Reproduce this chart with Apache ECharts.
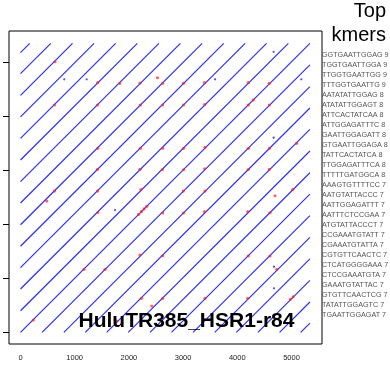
<!DOCTYPE html>
<html>
<head>
<meta charset="utf-8">
<script src="https://cdn.jsdelivr.net/npm/echarts@6/dist/echarts.min.js"></script>
<style>
html,body{margin:0;padding:0;background:#fff;}
#chart{width:390px;height:368px;}
</style>
</head>
<body>
<div id="chart"></div>
<script>
// ---- data ----
var seqLength = 5340;
// offsets of the repeat diagonals (bp)
var diagonalOffsets = [0, 398, 800, 1195, 1590, 1988, 2390, 2786, 3184, 3584, 3982, 4380, 4780, 5170];
// red top-kmer hits [x, y]
var kmerHitsX = [637,1424,1830,2205,2528,2624,3007,3395,4203,4590,
                 627,1421,2210,2624,3007,3398,4203,4295,4590,
                 1424,2214,2624,3007,3404,4207,4594,5096,
                 1421,2205,2620,3007,3398,4203,4590,
                 2223,5022,627,485,1421,3004,3404,4696,
                 1426,2180,2230,2280,2330,2624,3007,3395,4192,4603,
                 1172,1560,2205,2624,4203,4603,4727,
                 2232,2624,3404,4192,4980,5030,2421,236,1775];
var kmerHitsY = [5001,4613,4601,4607,4705,4601,4601,4613,4613,4601,
                 4201,4201,4201,4201,4201,4210,4201,4293,4201,
                 3400,3400,3400,3400,3419,3400,3400,3493,
                 3012,3012,3009,3005,3023,3009,3012,
                 2639,2639,2611,2426,2611,2611,2611,2524,
                 2214,2180,2230,2280,2330,2205,2205,2229,2229,2210,
                 1164,1162,1429,1414,1410,1410,1164,
                 628,628,628,628,610,655,486,227,209];
// isolated blue dots
var strayX = [808,1221,3589,5181,4671,4671,1744,4677,4677];
var strayY = [4675,4675,4675,4675,5185,3596,2260,1212,813];
var xTicks = [0, 1000, 2000, 3000, 4000, 5000];
var yTicks = [0, 1000, 2000, 3000, 4000, 5000];
var plotTitle = 'HuluTR385_HSR1-r84';
var legendTitle = ['Top', 'kmers'];
var kmerLabels = [
 'GGTGAATTGGAG 9','TGGTGAATTGGA 9','TTGGTGAATTGG 9','TTTGGTGAATTG 9',
 'AATATATTGGAG 8','ATATATTGGAGT 8','ATTCACTATCAA 8','ATTGGAGATTTC 8',
 'GAATTGGAGATT 8','GTGAATTGGAGA 8','TATTCACTATCA 8','TTGGAGATTTCA 8',
 'TTTTTGATGGCA 8','AAAGTGTTTTCC 7','AATGTATTACCC 7','AATTGGAGATTT 7',
 'AATTTCTCCGAA 7','ATGTATTACCCT 7','CCGAAATGTATT 7','CGAAATGTATTA 7',
 'CGTGTTCAACTC 7','CTCATGGGGAAA 7','CTCCGAAATGTA 7','GAAATGTATTAC 7',
 'GTGTTCAACTCG 7','TATATTGGAGTC 7','TGAATTGGAGAT 7'
];

// ---- build option ----
var segs = [];
diagonalOffsets.forEach(function (o) {
  segs.push({coords: [[0, o], [seqLength - o, seqLength]]});
  if (o > 0) segs.push({coords: [[o, 0], [seqLength, seqLength - o]]});
});
var hits = kmerHitsX.map(function (x, i) { return [x, kmerHitsY[i]]; });
var strays = strayX.map(function (x, i) { return [x, strayY[i]]; });

var graphics = [];
graphics.push({type:'text', x:386, y:21, style:{text:legendTitle[0], font:'20px "Liberation Sans", Arial, sans-serif', fill:'#000', textAlign:'right', textVerticalAlign:'bottom'}});
graphics.push({type:'text', x:386, y:45.5, style:{text:legendTitle[1], font:'20px "Liberation Sans", Arial, sans-serif', fill:'#000', textAlign:'right', textVerticalAlign:'bottom'}});
kmerLabels.forEach(function (t, i) {
  graphics.push({type:'text', x:322, y:55 + 10 * i, style:{text:t, font:'7.2px "Liberation Sans", Arial, sans-serif', fill:'#555', textAlign:'left', textVerticalAlign:'middle'}});
});
graphics.push({type:'text', x:78.5, y:321.5, z:100, style:{text:plotTitle, font:'bold 21px "Liberation Sans", Arial, sans-serif', fill:'#000', textAlign:'left', textVerticalAlign:'middle'}});

var option = {
  animation: false,
  backgroundColor: '#fff',
  grid: {left: 9, top: 31, right: 68, bottom: 24, show: true, borderColor: '#000', borderWidth: 1, backgroundColor: 'transparent', containLabel: false},
  xAxis: {
    type: 'value', min: -212, max: 5563,
    axisLine: {show: false, onZero: false}, axisTick: {show: false}, splitLine: {show: false},
    axisLabel: {customValues: xTicks, color: '#222', fontSize: 7.5, fontFamily: '"Liberation Sans", Arial, sans-serif', margin: 10,
      formatter: function (v) { return String(v); }}
  },
  yAxis: {
    type: 'value', min: -216, max: 5569,
    axisLine: {show: false, onZero: false}, splitLine: {show: false},
    axisTick: {show: true, inside: false, customValues: yTicks, length: 6, lineStyle: {color: '#000', width: 1}},
    axisLabel: {show: false}
  },
  series: [
    {type: 'lines', coordinateSystem: 'cartesian2d', data: segs, silent: true,
     lineStyle: {color: '#2f2ff5', width: 1.2, opacity: 1}, z: 2},
    {type: 'scatter', data: strays, symbol: 'circle', symbolSize: 2.3,
     itemStyle: {color: '#2a2aee'}, z: 3},
    {type: 'scatter', data: hits, symbol: 'circle', symbolSize: 3.2,
     itemStyle: {color: 'rgba(255,30,30,0.85)'}, z: 4}
  ],
  graphic: graphics
};
var chart = echarts.init(document.getElementById('chart'), null, {renderer: 'canvas'});
chart.setOption(option);
</script>
</body>
</html>
